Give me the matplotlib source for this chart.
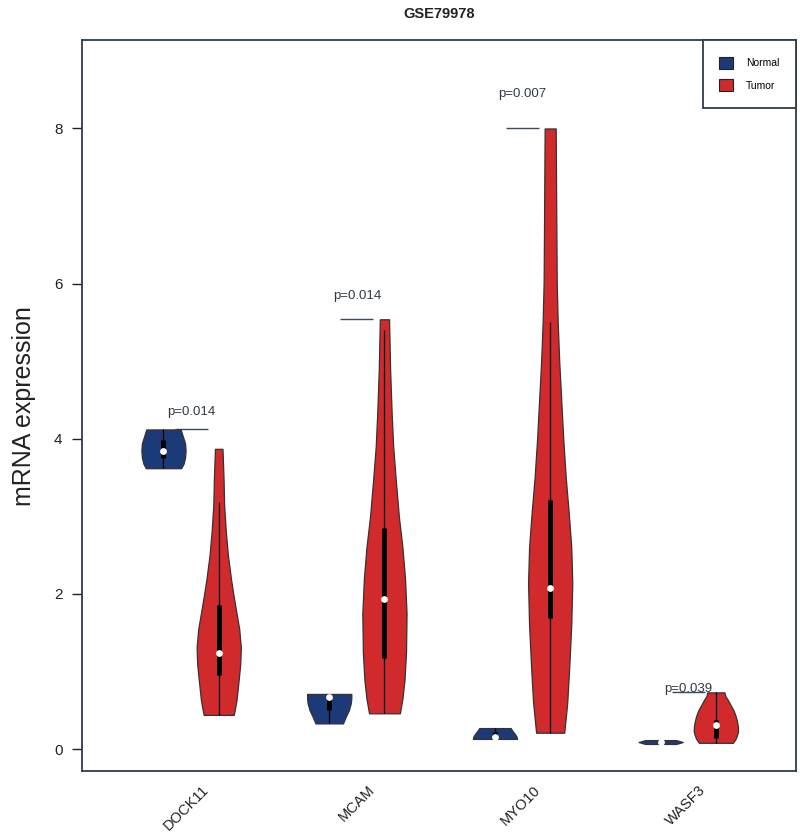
import numpy as np
import matplotlib.pyplot as plt
from matplotlib.patches import Patch

plt.rcParams['font.family'] = ['Liberation Sans', 'DejaVu Sans']

genes = ['DOCK11', 'MCAM', 'MYO10', 'WASF3']
p_labels = ['p=0.014', 'p=0.014', 'p=0.007', 'p=0.039']
groups = ['Normal', 'Tumor']
colors = ['#1d3a78', '#d02a2c']

# violin outlines: expression level (y) and relative half width (w)
dock11_n_y = [3.62, 3.68, 3.76, 3.85, 3.94, 4.02, 4.08, 4.12]
dock11_n_w = [18, 20.5, 22, 22.5, 22, 20, 18.5, 17.5]
dock11_t_y = [0.44, 0.63, 0.89, 1.10, 1.31, 1.55, 1.75, 2.00, 2.18, 2.50, 2.82, 3.15, 3.47, 3.87]
dock11_t_w = [14, 16.5, 18.5, 20, 20.5, 19, 16.5, 13.5, 11.5, 8.5, 6.5, 5, 4.5, 3.5]
mcam_n_y = [0.33, 0.42, 0.50, 0.59, 0.65, 0.71]
mcam_n_w = [14, 17, 20, 22, 22.5, 22.5]
mcam_t_y = [0.46, 0.65, 0.89, 1.25, 1.75, 2.20, 2.60, 3.00, 3.47, 3.90, 4.33, 4.90, 5.54]
mcam_t_w = [15, 17.5, 19.5, 21, 21.5, 20, 17.5, 14, 11, 8.5, 7, 5.5, 4.5]
myo10_n_y = [0.13, 0.16, 0.20, 0.24, 0.27]
myo10_n_w = [22.5, 22, 20, 17.5, 16]
myo10_t_y = [0.21, 0.60, 1.06, 1.60, 2.14, 2.60, 3.04, 3.50, 4.00, 4.50, 5.00, 5.50, 6.02, 7.00, 8.00]
myo10_t_w = [14, 17, 19, 21, 22, 21, 18.5, 15.5, 13, 11, 9, 7.5, 6.5, 6, 5.5]
wasf3_n_y = [0.065, 0.09, 0.115]
wasf3_n_w = [14, 20, 14]
wasf3_t_y = [0.08, 0.14, 0.22, 0.28, 0.36, 0.43, 0.50, 0.57, 0.63, 0.68, 0.73]
wasf3_t_w = [17, 20, 22, 22, 21, 19.5, 17.5, 14.5, 12, 9.5, 8.5]

# box stats: whisker low/high, q1, q3, median (Normal, Tumor per gene)
whisk_lo = [3.62, 0.44, 0.33, 0.46, 0.13, 0.21, 0.065, 0.08]
whisk_hi = [4.12, 3.18, 0.71, 5.40, 0.27, 5.50, 0.115, 0.73]
q1 = [3.75, 0.95, 0.50, 1.17, 0.15, 1.69, 0.08, 0.14]
q3 = [3.98, 1.86, 0.64, 2.85, 0.22, 3.21, 0.10, 0.37]
medians = [3.84, 1.24, 0.67, 1.93, 0.15, 2.07, 0.09, 0.31]

profiles = [(dock11_n_y, dock11_n_w), (dock11_t_y, dock11_t_w),
            (mcam_n_y, mcam_n_w), (mcam_t_y, mcam_t_w),
            (myo10_n_y, myo10_n_w), (myo10_t_y, myo10_t_w),
            (wasf3_n_y, wasf3_n_w), (wasf3_t_y, wasf3_t_w)]

normal_pos = np.arange(len(genes)) * 3 + 1
tumor_pos = normal_pos + 1
positions = np.ravel(np.column_stack([normal_pos, tumor_pos]))

fig = plt.figure(figsize=(8, 8.39), dpi=100)
ax = fig.add_axes([0.1025, 0.081, 0.8925, 0.871])

vpstats = []
for (ys, ws), med in zip(profiles, medians):
    ys = np.array(ys)
    vpstats.append(dict(coords=ys, vals=np.array(ws, dtype=float), mean=ys.mean(),
                        median=med, min=ys.min(), max=ys.max()))

parts = ax.violin(vpstats, positions=positions, widths=0.8,
                  showmeans=False, showextrema=False, showmedians=False)
for i, body in enumerate(parts['bodies']):
    body.set_facecolor(colors[i % 2])
    body.set_edgecolor('#3a3030')
    body.set_linewidth(0.9)
    body.set_alpha(1)
    body.set_zorder(2)

ax.vlines(positions, whisk_lo, whisk_hi, color='black', lw=0.9, zorder=3)
ax.vlines(positions, q1, q3, color='black', lw=3.6, zorder=3)
ax.scatter(positions, medians, s=24, color='white', zorder=4, linewidths=0)

# p-value brackets
for i, p in enumerate(p_labels):
    top = max(max(profiles[2 * i][0]), max(profiles[2 * i + 1][0]))
    ax.hlines(top, normal_pos[i] + 0.2, normal_pos[i] + 0.8, color='#3b4a5a', lw=1, zorder=1)
    ax.text(normal_pos[i] + 0.5, top * 1.055, p, ha='center', va='center',
            fontsize=9.5, color='#2f3a45')

ax.set_xlim(-0.475, 12.45)
ax.set_ylim(-0.284, 9.137)
ax.set_yticks([0, 2, 4, 6, 8])
ax.tick_params(axis='y', labelsize=11, length=7, width=1, pad=7, colors='#222222')
ax.set_xticks(normal_pos + 0.78)
ax.set_xticklabels(genes, rotation=45, ha='right', va='center', rotation_mode='anchor')
ax.tick_params(axis='x', length=0, pad=12, labelsize=10.5, colors='#222222')
for s in ax.spines.values():
    s.set_color('#2e3b48')
    s.set_linewidth(1.3)

ax.set_ylabel('mRNA expression', fontsize=18, labelpad=13, color='#222222')
ax.set_title('GSE79978', fontweight='bold', fontsize=10.5, pad=16, color='#222222')

handles = [Patch(facecolor=c, edgecolor='#222222', linewidth=0.8, label=g)
           for c, g in zip(colors, groups)]
leg = ax.legend(handles=handles, loc='upper right', bbox_to_anchor=(1, 1), borderaxespad=0,
                fontsize=7.5, handlelength=1.3, handleheight=1.4, labelspacing=1.0,
                borderpad=1.6, handletextpad=1.25, fancybox=False, framealpha=1)
leg.get_frame().set_edgecolor('#2e3b48')
leg.get_frame().set_linewidth(1.3)

plt.savefig('out.png', dpi=100)
